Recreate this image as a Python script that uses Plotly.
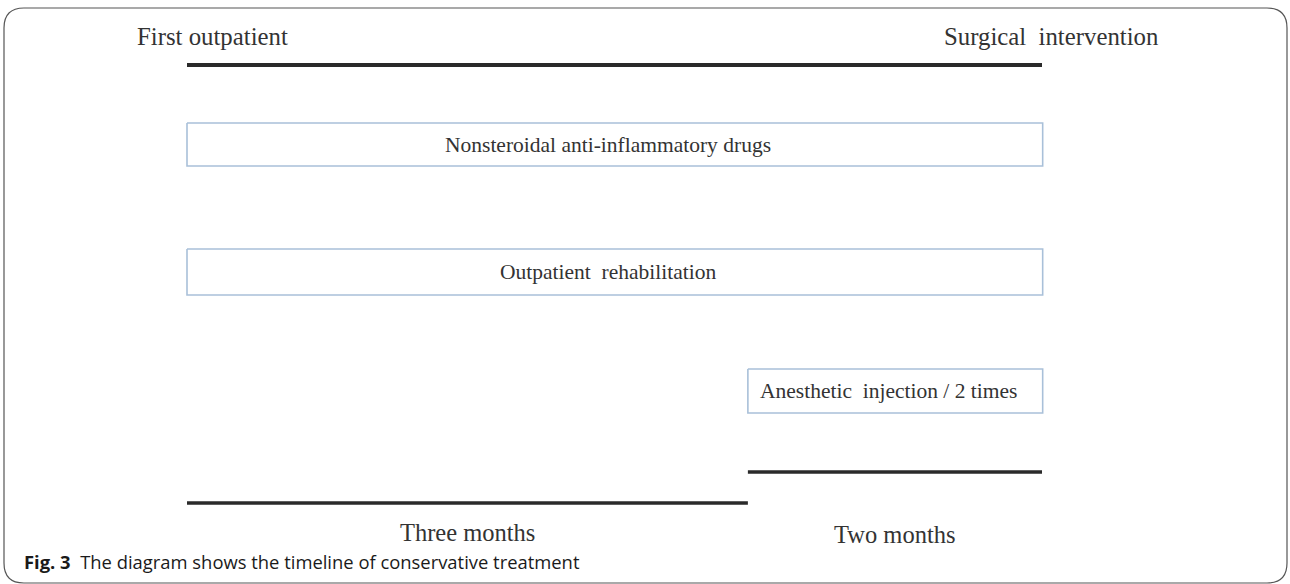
import plotly.graph_objects as go

# ---- data (timeline in months, diagram not to scale) ----
milestones = ["First outpatient", "Surgical\u00a0 intervention"]
milestone_month = [0, 5]

treatments = ["Nonsteroidal anti-inflammatory drugs",
              "Outpatient\u00a0 rehabilitation",
              "Anesthetic\u00a0 injection / 2 times"]
treat_start = [0, 0, 3.28]
treat_end = [5, 5, 5]

phases = ["Three months", "Two months"]
phase_start = [0, 3.28]
phase_end = [3.28, 5]

caption_label = "Fig. 3"
caption_text = "The diagram shows the timeline of conservative treatment"

# ---- layout constants (pixel rows on a 584-px tall canvas) ----
W, H = 1290, 584
X0PX, PXPM = 187, 171.0          # pixel of month 0, pixels per month
milestone_label_y = 36
milestone_label_dx = [0.152, 0.058]
milestone_line_y = 65
box_centers = [144.5, 272, 391]
box_half = [21.5, 23, 22]
phase_line_y = [503, 472]
phase_label_y = [532, 534]

LINE = "#2a2a2a"
TEXT = "#333333"
BOXLINE = "#a9c0d9"
SERIF = "Liberation Serif, Times New Roman, serif"

fig = go.Figure()

# top milestone line
fig.add_trace(go.Scatter(x=milestone_month, y=[milestone_line_y] * 2, mode="lines",
                         line=dict(color=LINE, width=4), hoverinfo="skip", showlegend=False))

# treatment boxes
for name, s, e, cy, hh in zip(treatments, treat_start, treat_end, box_centers, box_half):
    e2 = e + 0.004
    fig.add_trace(go.Scatter(x=[s, e2, e2, s, s], y=[cy - hh, cy - hh, cy + hh, cy + hh, cy - hh],
                             mode="lines", fill="toself", fillcolor="white",
                             line=dict(color=BOXLINE, width=1.6), hoverinfo="skip", showlegend=False))
    fig.add_annotation(x=(s + e) / 2 - 0.04, y=cy, text=name, showarrow=False,
                       font=dict(family=SERIF, size=21.5, color=TEXT), xanchor="center", yanchor="middle")

# phase lines
for name, s, e, ly, ty in zip(phases, phase_start, phase_end, phase_line_y, phase_label_y):
    fig.add_trace(go.Scatter(x=[s, e], y=[ly, ly], mode="lines",
                             line=dict(color=LINE, width=3.5), hoverinfo="skip", showlegend=False))
    fig.add_annotation(x=(s + e) / 2, y=ty, text=name, showarrow=False,
                       font=dict(family=SERIF, size=24.5, color=TEXT), xanchor="center", yanchor="middle")

# milestone labels
for name, m, dx in zip(milestones, milestone_month, milestone_label_dx):
    fig.add_annotation(x=m + dx, y=milestone_label_y, text=name, showarrow=False,
                       font=dict(family=SERIF, size=24.8, color=TEXT), xanchor="center", yanchor="middle")

# caption
fig.add_annotation(xref="paper", x=22 / W, y=561, text=f"<b>{caption_label}</b>\u00a0 {caption_text}",
                   showarrow=False, xanchor="left", yanchor="middle",
                   font=dict(family="Open Sans, sans-serif", size=18.4, color="#1a1a1a"))

# rounded frame
L, R, T, B, r = 4, 1287, 8, 583, 20
def px(x): return x / W
def py(y): return 1 - y / H
path = (f"M {px(L + r)},{py(T)} L {px(R - r)},{py(T)} Q {px(R)},{py(T)} {px(R)},{py(T + r)} "
        f"L {px(R)},{py(B - r)} Q {px(R)},{py(B)} {px(R - r)},{py(B)} "
        f"L {px(L + r)},{py(B)} Q {px(L)},{py(B)} {px(L)},{py(B - r)} "
        f"L {px(L)},{py(T + r)} Q {px(L)},{py(T)} {px(L + r)},{py(T)} Z")
fig.add_shape(type="path", xref="paper", yref="paper", path=path,
              line=dict(color="#555555", width=1.2), layer="below")

fig.update_layout(
    width=W, height=H, margin=dict(l=0, r=0, t=0, b=0),
    paper_bgcolor="white", plot_bgcolor="white",
    xaxis=dict(range=[-X0PX / PXPM, (W - X0PX) / PXPM], visible=False, fixedrange=True),
    yaxis=dict(range=[H, 0], visible=False, fixedrange=True),
    showlegend=False,
)

fig.write_html("out.html", config={"displayModeBar": False},
               post_script="document.body.style.margin='0';document.body.style.overflow='hidden';")
